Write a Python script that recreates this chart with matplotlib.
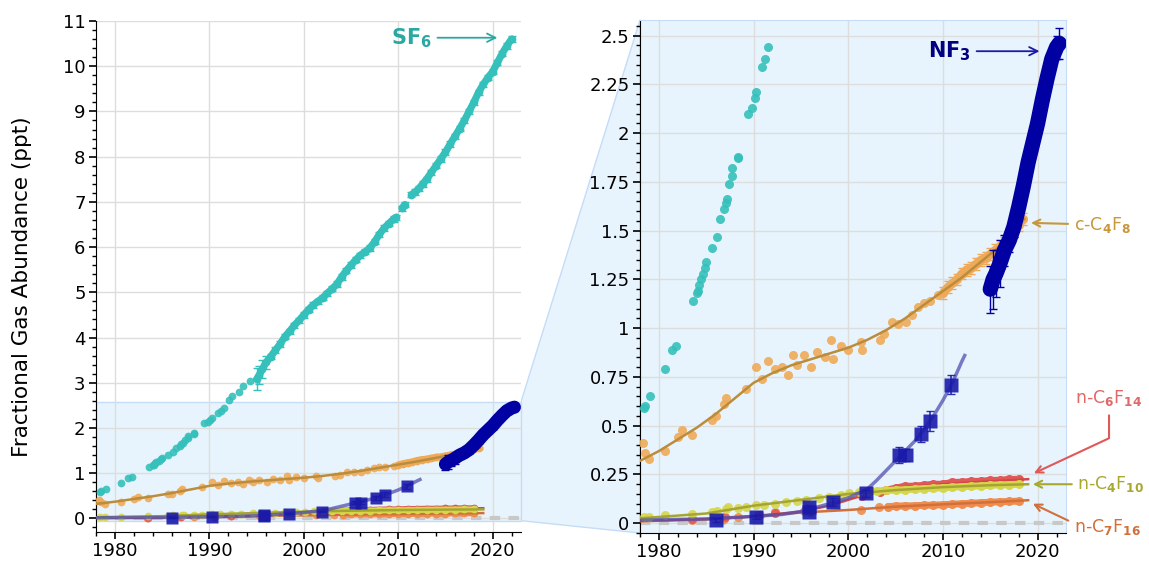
import numpy as np
import matplotlib.pyplot as plt
from matplotlib.patches import Polygon, Rectangle
from matplotlib.ticker import MultipleLocator, FormatStrFormatter

plt.rcParams['mathtext.fontset'] = 'dejavusans'

nan = np.nan

# SF6: early flask / archive samples
sf6_yr = [1978.4, 1978.5, 1979.1, 1980.6, 1981.4, 1981.8, 1983.6, 1984.0, 1984.1, 1984.2,
          1984.4, 1984.7, 1984.9, 1985.0, 1985.6, 1986.1, 1986.5, 1986.9, 1987.05, 1987.2,
          1987.4, 1987.7, 1987.7, 1988.4, 1988.4, 1989.4, 1989.85, 1990.1, 1990.3, 1990.9,
          1991.2, 1991.5, 1992.05, 1992.4, 1993.1, 1993.6, 1994.3]
sf6_val = [0.59, 0.60, 0.65, 0.79, 0.89, 0.91, 1.14, 1.18, 1.19, 1.22,
           1.25, 1.28, 1.31, 1.34, 1.41, 1.47, 1.56, 1.61, 1.64, 1.66,
           1.74, 1.78, 1.82, 1.87, 1.88, 2.10, 2.13, 2.18, 2.21, 2.34,
           2.38, 2.44, 2.63, 2.70, 2.80, 2.93, 3.04]
# SF6: in-situ record (nan = gap)
sf6_rec_yr = [1995.0, 1995.3, 1995.6, 1996.0, 1996.5, 1997.0, 1997.5, 1998.0, 1998.5, 1999.0,
              1999.5, 2000.0, 2000.5, 2001.0, 2001.5, 2002.0, 2002.5, 2003.0, 2003.5, 2004.0,
              2004.5, 2005.0, 2005.5, 2006.0, 2006.5, 2007.0, 2007.5, 2008.0, 2008.5, 2009.0,
              2009.5, 2009.8, nan, 2010.4, 2010.7, nan, 2011.4, 2011.8, 2012.2, 2012.6,
              2013.0, 2013.5, 2014.0, 2014.5, 2015.0, 2015.5, 2016.0, 2016.5, 2017.0, 2017.5,
              2018.0, 2018.5, 2019.0, 2019.5, 2020.0, 2020.5, 2021.0, 2021.5, 2022.0]
sf6_rec_val = [3.08, 3.18, 3.30, 3.45, 3.58, 3.72, 3.86, 4.02, 4.14, 4.27,
               4.38, 4.50, 4.62, 4.72, 4.80, 4.88, 4.98, 5.08, 5.18, 5.34,
               5.48, 5.60, 5.72, 5.82, 5.90, 5.98, 6.12, 6.28, 6.42, 6.52,
               6.62, 6.66, nan, 6.86, 6.94, nan, 7.16, 7.22, 7.30, 7.40,
               7.50, 7.65, 7.80, 7.95, 8.10, 8.28, 8.45, 8.62, 8.80, 9.00,
               9.20, 9.42, 9.60, 9.75, 9.88, 10.08, 10.28, 10.45, 10.60]
sf6_rec_err = [0.25, 0.2, 0.2, 0.15] + [0.06] * 55

# c-C4F8
cc4_yr = [1978.3, 1978.5, 1978.9, 1980.6, 1982.0, 1982.4, 1983.5, 1985.6, 1986.0, 1986.9,
          1987.1, 1989.2, 1990.3, 1990.9, 1991.5, 1992.3, 1993.0, 1993.6, 1994.2, 1994.6,
          1995.3, 1996.1, 1996.7, 1997.5, 1998.2, 1998.4, 1999.2, 2000.0, 2001.3, 2001.5,
          2003.3, 2003.8, 2004.6, 2005.3, 2006.1, 2006.7, 2007.4, 2008.0, 2008.6, 2009.5]
cc4_val = [0.41, 0.36, 0.33, 0.37, 0.44, 0.48, 0.45, 0.53, 0.55, 0.61,
           0.64, 0.69, 0.80, 0.74, 0.83, 0.79, 0.80, 0.76, 0.86, 0.81,
           0.86, 0.80, 0.88, 0.85, 0.94, 0.84, 0.91, 0.89, 0.93, 0.89,
           0.94, 0.97, 1.03, 1.02, 1.03, 1.07, 1.11, 1.13, 1.14, 1.17]
cc4_rec_yr = [2010.0, 2010.5, 2011.0, 2011.5, 2012.0, 2012.5, 2013.0, 2013.5, 2014.0,
              2014.5, 2015.0, 2015.5, 2016.0, 2016.5, 2017.0, 2017.5, 2018.0, 2018.5]
cc4_rec_val = [1.18, 1.21, 1.23, 1.25, 1.28, 1.30, 1.31, 1.33, 1.35,
               1.36, 1.38, 1.40, 1.42, 1.44, 1.47, 1.50, 1.53, 1.56]
cc4_rec_err = [0.03] * 18
cc4_fit_yr = [1978, 1980, 1982, 1984, 1986, 1988, 1990, 1992, 1994, 1996, 1998,
              2000, 2002, 2004, 2006, 2008, 2010, 2012, 2014, 2016, 2018.6]
cc4_fit_val = [0.32, 0.37, 0.43, 0.49, 0.56, 0.64, 0.72, 0.77, 0.81, 0.84, 0.87,
               0.90, 0.94, 0.99, 1.05, 1.12, 1.19, 1.26, 1.34, 1.42, 1.56]

# n-C6F14
c6_yr = [1983.5, 1987.0, 1990.5, 1992.3, 1996.0, 2001.5]
c6_val = [0.02, 0.03, 0.04, 0.05, 0.06, 0.14]
c6_rec_yr = [2003.3, 2004.0, 2005.0, 2006.0, 2007.0, 2008.0, 2009.0, 2010.0,
             2011.0, 2012.0, 2013.0, 2014.0, 2015.0, 2016.0, 2017.0, 2018.0]
c6_rec_val = [0.16, 0.17, 0.18, 0.19, 0.19, 0.195, 0.2, 0.2,
              0.21, 0.21, 0.215, 0.215, 0.22, 0.22, 0.225, 0.225]
c6_fit_yr = [1978, 1985, 1990, 1995, 1998, 2000, 2002, 2004, 2006, 2010, 2015, 2019]
c6_fit_val = [0.012, 0.022, 0.035, 0.06, 0.09, 0.12, 0.15, 0.17, 0.185, 0.2, 0.215, 0.226]

# n-C4F10
c4_yr = [1978.4, 1979.0, 1980.65, 1983.5, 1985.6, 1986.1, 1987.1, 1987.3, 1988.4, 1989.2,
         1990.3, 1991.1, 1992.3, 1993.4, 1994.6, 1995.5, 1996.9, 1998.0, 1999.2, 2000.1, 2001.1]
c4_val = [0.03, 0.03, 0.04, 0.045, 0.056, 0.065, 0.073, 0.085, 0.08, 0.085,
          0.094, 0.094, 0.1, 0.107, 0.116, 0.12, 0.13, 0.133, 0.146, 0.153, 0.158]
c4_rec_yr = [2002.0, 2003.0, 2004.0, 2005.0, 2006.0, 2007.0, 2008.0, 2009.0, 2010.0,
             2011.0, 2012.0, 2013.0, 2014.0, 2015.0, 2016.0, 2017.0, 2018.0]
c4_rec_val = [0.16, 0.165, 0.168, 0.17, 0.172, 0.175, 0.178, 0.18, 0.182,
              0.185, 0.188, 0.19, 0.192, 0.195, 0.197, 0.198, 0.2]
c4_fit_yr = [1978, 1985, 1990, 1995, 2000, 2005, 2010, 2015, 2019]
c4_fit_val = [0.025, 0.05, 0.09, 0.12, 0.15, 0.17, 0.185, 0.195, 0.2]

# n-C7F16
c7_yr = [1983.45, 1986.9, 1988.4, 1990.7, 1992.3, 1995.3, 1996.1, 2001.3, 2003.2]
c7_val = [0.017, 0.022, 0.03, 0.044, 0.056, 0.061, 0.065, 0.07, 0.082]
c7_rec_yr = [2004.2, 2005.0, 2006.0, 2007.0, 2008.0, 2009.0, 2010.0, 2011.0,
             2012.0, 2013.0, 2014.0, 2015.0, 2016.0, 2017.0, 2018.0]
c7_rec_val = [0.085, 0.088, 0.089, 0.09, 0.092, 0.093, 0.095, 0.098,
              0.1, 0.103, 0.105, 0.108, 0.11, 0.112, 0.113]
c7_fit_yr = [1978, 1985, 1990, 1995, 2000, 2005, 2010, 2015, 2019]
c7_fit_val = [0.01, 0.02, 0.035, 0.055, 0.068, 0.085, 0.097, 0.108, 0.118]

# NF3: archive samples, fit and recent record
nf3_yr = [1986.05, 1990.3, 1995.8, 1995.8, 1998.4, 2001.9, 2005.4, 2006.1, 2007.65, 2008.6, 2010.9]
nf3_val = [0.017, 0.034, 0.082, 0.06, 0.107, 0.153, 0.349, 0.349, 0.456, 0.524, 0.711]
nf3_err = [0.01, 0.01, 0.01, 0.01, 0.02, 0.02, 0.04, 0.03, 0.04, 0.05, 0.05]
nf3_fit_yr = [1978, 1980, 1985, 1990, 1993, 1995, 1998, 2000, 2002, 2003, 2004, 2005,
              2006, 2007, 2008, 2009, 2010, 2011, 2012, 2012.3]
nf3_fit_val = [0.015, 0.018, 0.022, 0.035, 0.045, 0.06, 0.1, 0.13, 0.175, 0.22, 0.27, 0.32,
               0.37, 0.42, 0.48, 0.55, 0.63, 0.72, 0.83, 0.86]
nf3_rec_yr = [2015.0, 2015.3, 2015.6, 2016.0, 2016.5, 2017.0, 2017.5, 2018.0, 2018.5,
              2019.0, 2019.5, 2020.0, 2020.5, 2021.0, 2021.5, 2022.0, 2022.3]
nf3_rec_val = [1.20, 1.25, 1.28, 1.33, 1.40, 1.45, 1.52, 1.62, 1.73,
               1.85, 1.95, 2.05, 2.17, 2.28, 2.38, 2.44, 2.46]
nf3_rec_err = [0.12, 0.15, 0.12, 0.12, 0.08, 0.06, 0.05, 0.05, 0.05,
               0.05, 0.05, 0.05, 0.05, 0.05, 0.05, 0.06, 0.08]

c_sf6 = '#35c0bb'
c_nf3 = '#0000a3'
c_cc4 = '#eeaa58'
c_c6 = '#e05858'
c_c4 = '#d6d64a'
c_c7 = '#f08c4e'
light = '#e8f4fd'
light_edge = '#c5dcf7'

xlim = (1978, 2023)


def series(ax, yr, val, rec_yr, rec_val, rec_err, fit_yr, fit_val, col, fit_col, k, band, z):
    if fit_yr is not None:
        ax.plot(fit_yr, fit_val, '-', color=fit_col, lw=1.8, zorder=z + 0.2)
    ax.plot(yr, val, 'o', color=col, ms=6.5 * k, mec='none', alpha=0.9, zorder=z)
    if rec_err is not None:
        ax.errorbar(rec_yr, rec_val, yerr=rec_err, fmt='none', ecolor=col,
                    elinewidth=1, capsize=3 * k, zorder=z)
    ax.plot(rec_yr, rec_val, 'o-', color=col, ms=6.5 * k, mec='none', lw=band * k,
            solid_capstyle='round', zorder=z + 0.1)


def panel(ax, k):
    ax.axhline(0, color='#c8c8c8', lw=3, ls=(0, (2.5, 2)), zorder=1)
    series(ax, sf6_yr, sf6_val, sf6_rec_yr, sf6_rec_val, sf6_rec_err,
           None, None, c_sf6, None, k, 6, 3)
    series(ax, cc4_yr, cc4_val, cc4_rec_yr, cc4_rec_val, cc4_rec_err,
           cc4_fit_yr, cc4_fit_val, c_cc4, '#bb8c3c', k, 6, 3)
    series(ax, c7_yr, c7_val, c7_rec_yr, c7_rec_val, None,
           c7_fit_yr, c7_fit_val, c_c7, '#d2703a', k, 5, 4)
    series(ax, c6_yr, c6_val, c6_rec_yr, c6_rec_val, None,
           c6_fit_yr, c6_fit_val, c_c6, '#d04848', k, 5, 4.5)
    series(ax, c4_yr, c4_val, c4_rec_yr, c4_rec_val, None,
           c4_fit_yr, c4_fit_val, c_c4, '#a5a534', k, 5, 5)
    # NF3
    ax.plot(nf3_fit_yr, nf3_fit_val, '-', color='#5050b0', lw=2.5, alpha=0.75, zorder=6)
    ax.errorbar(nf3_yr, nf3_val, yerr=nf3_err, fmt='s', color='#1a1aaa', ms=9.5 * k,
                mec='none', alpha=0.9, elinewidth=1.2, capsize=3 * k, zorder=6)
    ax.errorbar(nf3_rec_yr, nf3_rec_val, yerr=nf3_rec_err, fmt='none', ecolor=c_nf3,
                elinewidth=1, capsize=3 * k, zorder=7)
    ax.plot(nf3_rec_yr, nf3_rec_val, 's-', color=c_nf3, ms=7 * k, mec='none', lw=11 * k,
            solid_capstyle='round', zorder=7)

    ax.set_xlim(*xlim)
    ax.xaxis.set_major_locator(MultipleLocator(10))
    ax.xaxis.set_minor_locator(MultipleLocator(2))
    ax.grid(color='#dddddd', lw=1)
    ax.set_axisbelow(True)
    ax.tick_params(labelsize=13, length=5, width=1.2, pad=2.5, direction='out')
    ax.tick_params(which='minor', length=3, width=1)
    ax.yaxis.set_major_formatter(FormatStrFormatter('%g'))


fig = plt.figure(figsize=(11.49, 5.62), dpi=100)
ax_l = fig.add_axes([96 / 1149, 30 / 562, 425 / 1149, 511 / 562])
ax_r = fig.add_axes([640 / 1149, 29 / 562, 426 / 1149, 513 / 562])

panel(ax_l, 0.86)
panel(ax_r, 1.0)

zoom_lo, zoom_hi = -0.05, 2.58

ax_l.set_ylim(-0.3, 11)
ax_l.yaxis.set_major_locator(MultipleLocator(1))
ax_l.yaxis.set_minor_locator(MultipleLocator(0.2))
ax_l.spines['top'].set_visible(False)
ax_l.spines['right'].set_visible(False)
ax_l.add_patch(Rectangle((xlim[0], zoom_lo), xlim[1] - xlim[0], zoom_hi - zoom_lo,
                         fc=light, ec=light_edge, lw=1, zorder=0.1, clip_on=False))

ax_r.set_ylim(zoom_lo, zoom_hi)
ax_r.yaxis.set_major_locator(MultipleLocator(0.25))
ax_r.yaxis.set_minor_locator(MultipleLocator(0.05))
ax_r.set_facecolor(light)
for s in ['top', 'right']:
    ax_r.spines[s].set_color(light_edge)

# band joining the highlighted range to the zoomed panel
to_fig = fig.transFigure.inverted()
pts = [ax_l.transData.transform((xlim[1], zoom_hi)),
       ax_r.transAxes.transform((0, 1)),
       ax_r.transAxes.transform((0, 0)),
       ax_l.transData.transform((xlim[1], zoom_lo))]
fig.patches.append(Polygon(to_fig.transform(pts), closed=True, fc=light, ec=light_edge,
                           lw=1, transform=fig.transFigure, zorder=-1))

fig.text(0.019, 0.49, 'Fractional Gas Abundance (ppt)', rotation=90,
         ha='center', va='center', fontsize=15.5)

# labels
ax_l.annotate(r'$\mathbf{SF_6}$', xy=(2020.5, 10.63), xytext=(2011.4, 10.63),
              color='#2aa8a2', fontsize=15, ha='center', va='center',
              arrowprops=dict(arrowstyle='->', color='#2aa8a2', lw=1.3, shrinkA=2, shrinkB=0))
ax_r.annotate(r'$\mathbf{NF_3}$', xy=(2020.2, 2.42), xytext=(2010.7, 2.42),
              color='#000080', fontsize=15, ha='center', va='center',
              arrowprops=dict(arrowstyle='->', color='#1a1aaa', lw=1.3, shrinkA=2, shrinkB=0))
lab = dict(fontsize=12.5, ha='left', va='center', annotation_clip=False)
ax_r.annotate(r'c-C$_\mathbf{4}$F$_\mathbf{8}$', xy=(2019.3, 1.54), xytext=(2023.8, 1.53),
              color='#c8963c', **lab,
              arrowprops=dict(arrowstyle='->', color='#c8963c', lw=1.5, shrinkA=2, shrinkB=0))
ax_r.annotate(r'n-C$_\mathbf{6}$F$_\mathbf{14}$', xy=(2019.6, 0.256), xytext=(2024.0, 0.64),
              color='#e06868', **lab,
              arrowprops=dict(arrowstyle='->', color='#e05858', lw=1.5, shrinkA=3, shrinkB=0,
                              relpos=(0.5, 0),
                              connectionstyle='angle,angleA=90,angleB=25,rad=0'))
ax_r.annotate(r'n-C$_\mathbf{4}$F$_\mathbf{10}$', xy=(2019.5, 0.2), xytext=(2024.2, 0.2),
              color='#a8a830', **lab,
              arrowprops=dict(arrowstyle='->', color='#a8a830', lw=1.5, shrinkA=2, shrinkB=0))
ax_r.annotate(r'n-C$_\mathbf{7}$F$_\mathbf{16}$', xy=(2019.5, 0.1), xytext=(2023.8, -0.02),
              color='#d0703a', **lab,
              arrowprops=dict(arrowstyle='->', color='#d0703a', lw=1.5, shrinkA=2, shrinkB=0,
                              relpos=(0, 0.7)))

fig.savefig('out.png', dpi=100)
